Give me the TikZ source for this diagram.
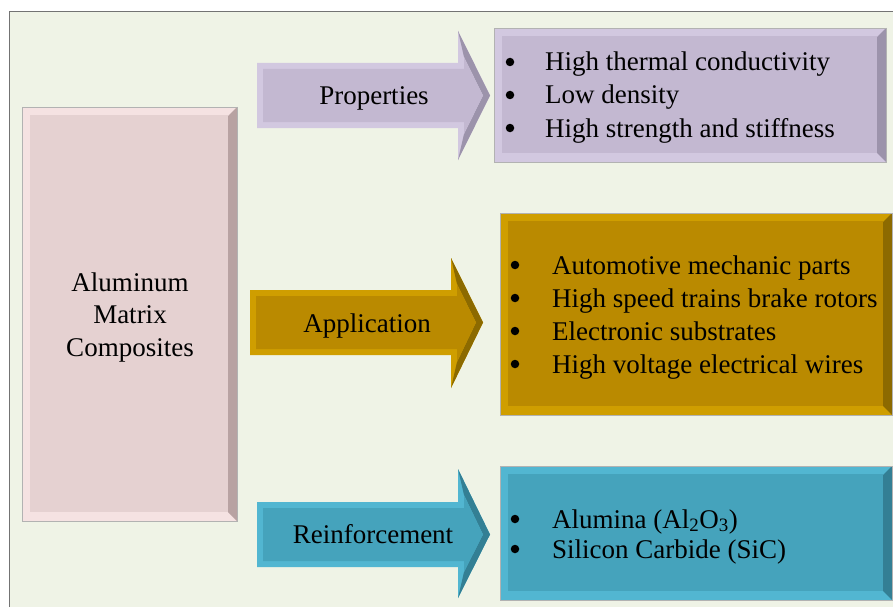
\documentclass[tikz,border=0pt]{standalone}
\usepackage{fontspec}
\setmainfont{Liberation Serif}
\definecolor{bgc}{HTML}{EFF3E6}
\definecolor{pinkM}{HTML}{E5D1D1}\definecolor{pinkL}{HTML}{F5E2E2}\definecolor{pinkD}{HTML}{B8A2A2}
\definecolor{purM}{HTML}{C3B8D1}\definecolor{purL}{HTML}{D2C8E0}\definecolor{purD}{HTML}{9C93AB}
\definecolor{golM}{HTML}{BA8A00}\definecolor{golL}{HTML}{CF9E00}\definecolor{golD}{HTML}{8C6A00}
\definecolor{bluM}{HTML}{45A3BC}\definecolor{bluL}{HTML}{52B6D1}\definecolor{bluD}{HTML}{337F94}
\newcommand\bevbox[5]{% x1 y1 x2 y2 colour-prefix
  \fill[#5L] (#1,#2) rectangle (#3,#4);
  \fill[#5D] (#3,#2) -- (#3,#4) -- ({#3-9},{#4-9}) -- ({#3-9},{#2+9}) -- cycle;
  \fill[#5M] ({#1+8},{#2+8}) rectangle ({#3-9},{#4-9});
  \draw[edgeline] (#1,#2) rectangle (#3,#4);
}
\newcommand\bevarrow[8]{% xl yt yb xn ht hb xt colour-prefix
  \pgfmathsetmacro\ym{(#2+#3)/2}
  \fill[#8L] (#1,#2) -- (#4,#2) -- (#4,#5) -- (#7,\ym) -- (#4,#6) -- (#4,#3) -- (#1,#3) -- cycle;
  \fill[#8D] (#4,#5) -- (#7,\ym) -- (#4,#6) -- ({#4+6},{#6-26}) -- ({#7-7},\ym) -- ({#4+6},{#5+26}) -- cycle;
  \fill[#8M] ({#1+6},{#2+6}) -- ({#4+6},{#2+6}) -- ({#4+6},{min(#5+26,#2+6)}) -- ({#7-7},\ym) -- ({#4+6},{max(#6-26,#3-6)}) -- ({#4+6},{#3-6}) -- ({#1+6},{#3-6}) -- cycle;
}
\begin{document}
\begin{tikzpicture}[x=1pt,y=-1pt,
  edgeline/.style={draw=black!30,line width=0.7pt},
  txt/.style={font=\fontsize{27}{33}\selectfont,inner sep=0pt,text=black,anchor=base},
  item/.style={txt,anchor=base west},
  bul/.style={circle,fill=black,inner sep=0pt,minimum size=8.5pt}]
\useasboundingbox (0,0) rectangle (893,607);
\fill[white] (0,0) rectangle (893,607);
\fill[bgc] (9.5,11.5) rectangle (893,607);
\draw[black!55,line width=1pt] (9.5,607) -- (9.5,11.5) -- (893,11.5);
% left box
\bevbox{22}{107}{237}{521}{pink}
\node[txt] (amc1) at (130,291) {Aluminum};
\node[txt] (amc2) at (130,323) {Matrix};
\node[txt] (amc3) at (130,356) {Composites};
% arrows
\bevarrow{257}{63}{128}{458}{31}{160}{490}{pur}
\node[txt] (prop) at (374,105) {Properties};
\bevarrow{250}{290}{355}{451}{258}{388}{483}{gol}
\node[txt] (appl) at (367,332) {Application};
\bevarrow{257}{502}{567}{458}{469}{598}{490}{blu}
\node[txt] (reinf) at (373,543) {Reinforcement};
% right boxes
\bevbox{494}{28}{886}{162}{pur}
\node[bul] (pb1) at (510,62) {};
\node[bul] (pb2) at (510,95) {};
\node[bul] (pb3) at (510,128) {};
\node[item] (p1) at (545,71) {High thermal conductivity};
\node[item] (p2) at (545,104) {Low density};
\node[item] (p3) at (545,137) {High strength and stiffness};
\bevbox{500}{213}{892}{415}{gol}
\node[bul] (gb1) at (515,265) {};
\node[bul] (gb2) at (515,298) {};
\node[bul] (gb3) at (515,331) {};
\node[bul] (gb4) at (515,364) {};
\node[item] (g1) at (552,274) {Automotive mechanic parts};
\node[item] (g2) at (552,307) {High speed trains brake rotors};
\node[item] (g3) at (552,340) {Electronic substrates};
\node[item] (g4) at (552,373) {High voltage electrical wires};
\bevbox{500}{466}{892}{600}{blu}
\node[bul] (bb1) at (515,519) {};
\node[bul] (bb2) at (515,549) {};
\node[item] (b1) at (552,528) {Alumina (Al\textsubscript{2}O\textsubscript{3})};
\node[item] (b2) at (552,558) {Silicon Carbide (SiC)};
\end{tikzpicture}
\end{document}
